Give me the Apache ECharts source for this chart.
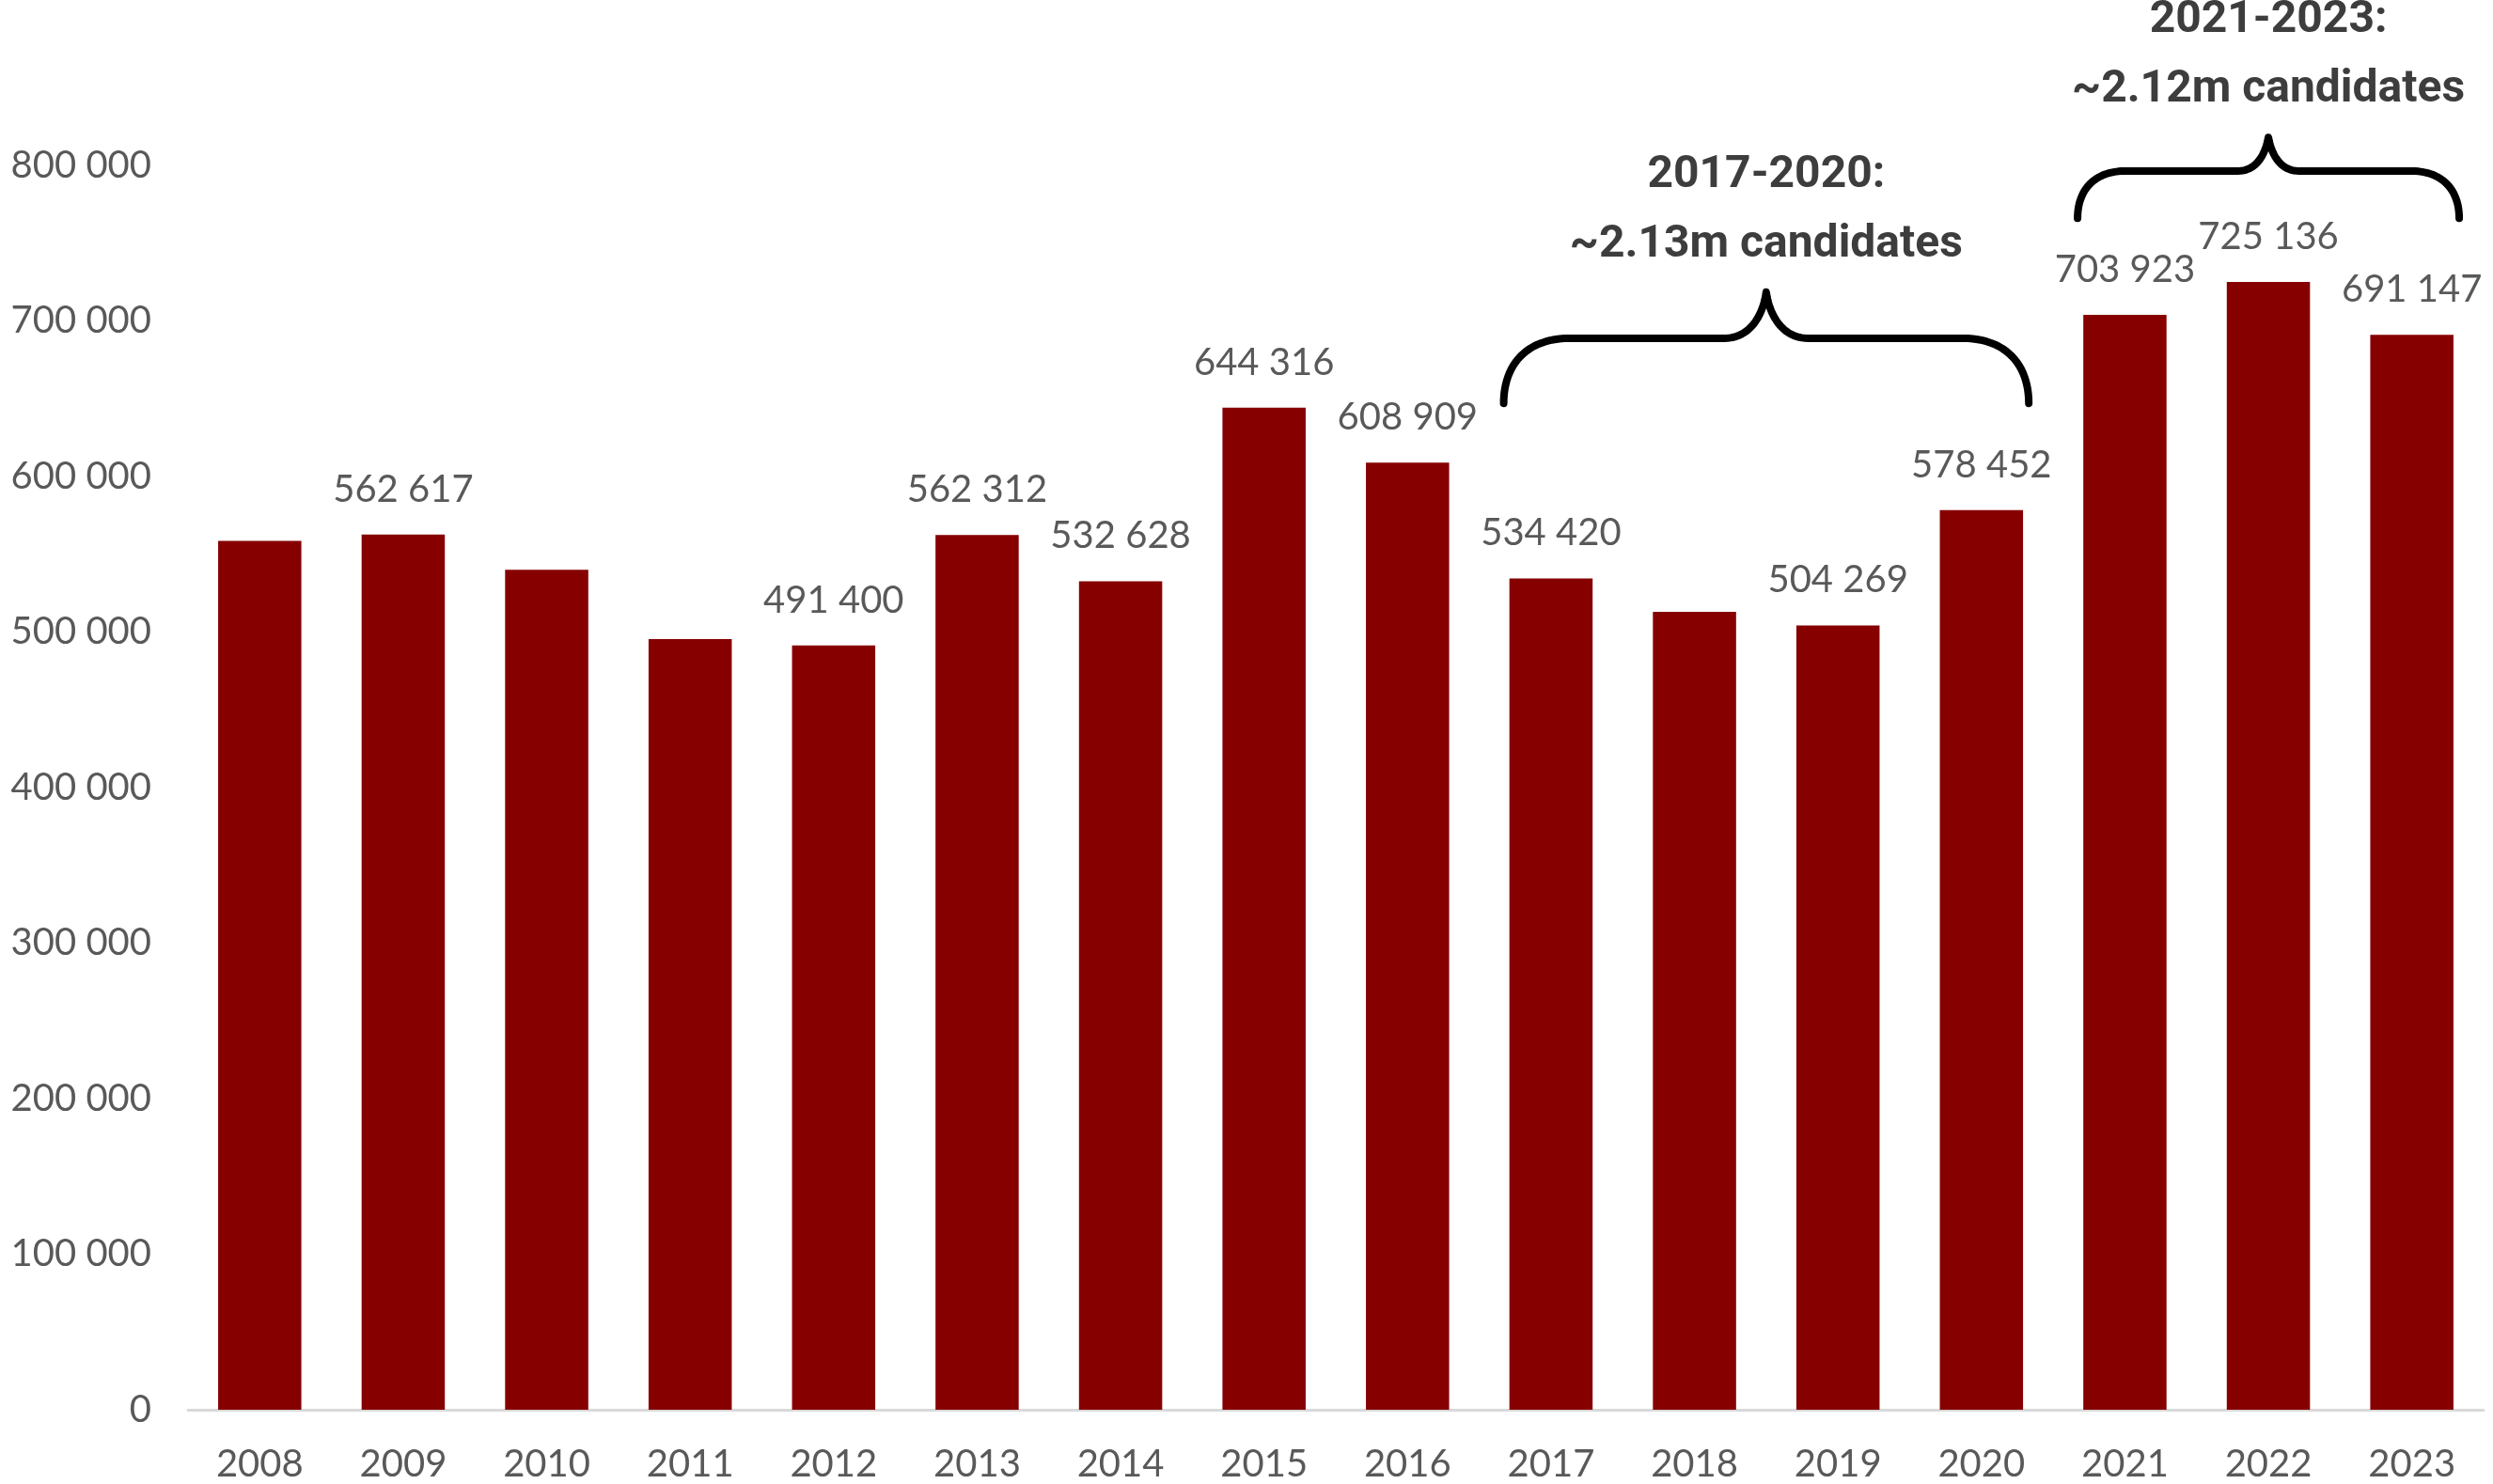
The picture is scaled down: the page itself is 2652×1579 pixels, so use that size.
<!DOCTYPE html>
<html>
<head>
    <meta charset="utf-8">
    <title>Candidates per year</title>
    <script src="https://cdn.jsdelivr.net/npm/echarts@6/dist/echarts.min.js"></script>
    <style>
        html, body { margin: 0; padding: 0; background: #fff; }
    </style>
</head>
<body>
    <div id="chartView" style="width: 2652px;height: 1579px;"></div>
</body>

<script>
    // data
    var years = ['2008', '2009', '2010', '2011', '2012', '2013', '2014', '2015',
                 '2016', '2017', '2018', '2019', '2020', '2021', '2022', '2023'];
    var candidates = [558600, 562617, 540000, 495500, 491400, 562312, 532628, 644316,
                      608909, 534420, 513000, 504269, 578452, 703923, 725136, 691147];
    // which bars carry a value label in the original
    var labelShown = [false, true, false, false, true, true, true, true,
                      true, true, false, true, true, true, true, true];
    var yTicks = [0, 100000, 200000, 300000, 400000, 500000, 600000, 700000, 800000];

    // annotation groups (first year, last year, text lines)
    var groupFrom = ['2017', '2021'];
    var groupTo = ['2020', '2023'];
    var groupTitle = ['2017-2020:', '2021-2023:'];
    var groupText = ['~2.13m candidates', '~2.12m candidates'];
    var groupBase = [647000, 766000];   // value where the brace ends sit

    function fmt(v) {
        return String(v).replace(/\B(?=(\d{3})+(?!\d))/g, ' ');
    }

    var gray = '#595959';
    var labelFont = 'Lato, "Open Sans", sans-serif';

    var option = {
        animation: false,
        backgroundColor: '#ffffff',
        grid: {
            left: 200,
            right: 10,
            top: 176,
            bottom: 79
        },
        xAxis: {
            type: 'category',
            data: years,
            axisLine: { lineStyle: { color: '#d9d9d9', width: 3 } },
            axisTick: { show: false },
            axisLabel: {
                color: gray,
                fontFamily: labelFont,
                fontSize: 40,
                margin: 38
            }
        },
        yAxis: {
            type: 'value',
            min: yTicks[0],
            max: yTicks[yTicks.length - 1],
            interval: yTicks[1] - yTicks[0],
            splitLine: { show: false },
            axisLine: { show: false },
            axisTick: { show: false },
            axisLabel: {
                color: gray,
                fontFamily: labelFont,
                fontSize: 40,
                margin: 39,
                formatter: function (v) { return fmt(v); }
            }
        },
        series: [{
            type: 'bar',
            barCategoryGap: '42%',
            itemStyle: { color: '#860000' },
            label: {
                position: 'top',
                distance: 28,
                color: gray,
                fontFamily: labelFont,
                fontSize: 40,
                formatter: function (p) { return fmt(p.value); }
            },
            data: candidates.map(function (v, i) {
                return { value: v, label: { show: labelShown[i] } };
            })
        }]
    };

    var myChart = echarts.init(document.getElementById('chartView'), null, { renderer: 'canvas' });
    myChart.setOption(option);

    // sample a cubic bezier into points
    function cubic(pts, p0, p1, p2, p3) {
        for (var t = 1; t <= 24; t++) {
            var s = t / 24, u = 1 - s;
            pts.push([
                u * u * u * p0[0] + 3 * u * u * s * p1[0] + 3 * u * s * s * p2[0] + s * s * s * p3[0],
                u * u * u * p0[1] + 3 * u * u * s * p1[1] + 3 * u * s * s * p2[1] + s * s * s * p3[1]
            ]);
        }
    }

    // curly brace opening downwards, tip pointing up
    function bracePoints(x0, x1, yH, w) {
        var drop = 0.124 * w, rise = 0.088 * w;
        var k = 0.126 * w, m = 0.08 * w;
        var xc = (x0 + x1) / 2, yE = yH + drop, yT = yH - rise;
        var pts = [[x0, yE]];
        cubic(pts, [x0, yE], [x0, yE - drop * 0.6], [x0 + k * 0.35, yH], [x0 + k, yH]);
        pts.push([xc - m, yH]);
        cubic(pts, [xc - m, yH], [xc - m * 0.35, yH], [xc - 3, yT + rise * 0.45], [xc, yT]);
        cubic(pts, [xc, yT], [xc + 3, yT + rise * 0.45], [xc + m * 0.35, yH], [xc + m, yH]);
        pts.push([x1 - k, yH]);
        cubic(pts, [x1 - k, yH], [x1 - k * 0.35, yH], [x1, yE - drop * 0.6], [x1, yE]);
        return pts;
    }

    var band = myChart.convertToPixel({ xAxisIndex: 0 }, years[1]) - myChart.convertToPixel({ xAxisIndex: 0 }, years[0]);
    var graphics = [];
    groupFrom.forEach(function (from, i) {
        var x0 = myChart.convertToPixel({ xAxisIndex: 0 }, from) - 0.33 * band;
        var x1 = myChart.convertToPixel({ xAxisIndex: 0 }, groupTo[i]) + 0.33 * band;
        var yE = myChart.convertToPixel({ yAxisIndex: 0 }, groupBase[i]);
        var w = x1 - x0;
        var yH = yE - 0.124 * w;
        var yT = yH - 0.088 * w;
        var xc = (x0 + x1) / 2;
        graphics.push({
            type: 'polyline',
            shape: { points: bracePoints(x0, x1, yH, w) },
            style: { fill: null, stroke: '#000', lineWidth: 8, lineCap: 'round', lineJoin: 'round' }
        });
        graphics.push({
            type: 'text',
            x: xc, y: yT - 50,
            style: {
                text: groupText[i], fill: '#3d3d3d', font: 'bold 48px Roboto, sans-serif',
                textAlign: 'center', textVerticalAlign: 'middle'
            }
        });
        graphics.push({
            type: 'text',
            x: xc, y: yT - 124,
            style: {
                text: groupTitle[i], fill: '#3d3d3d', font: 'bold 48px Roboto, sans-serif',
                textAlign: 'center', textVerticalAlign: 'middle'
            }
        });
    });
    myChart.setOption({ graphic: graphics });
</script>
</html>
